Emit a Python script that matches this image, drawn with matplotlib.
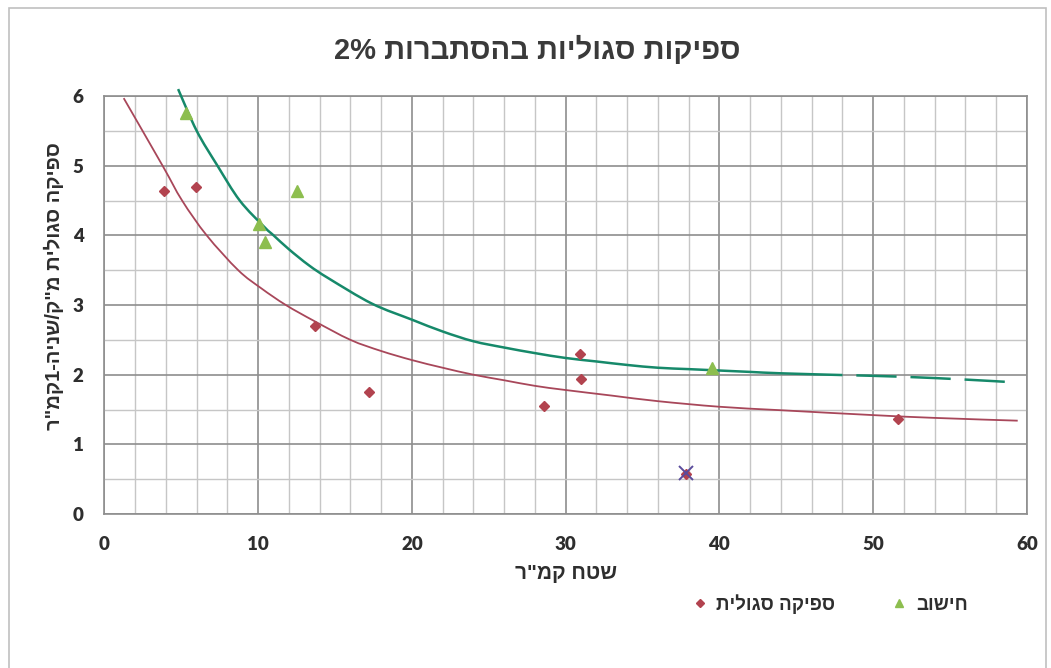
import re
import numpy as np
import matplotlib
matplotlib.use("Agg")
import matplotlib.pyplot as plt
from matplotlib.lines import Line2D
from matplotlib.patches import Rectangle, PathPatch
from matplotlib.path import Path

plt.rcParams['font.family'] = ['Liberation Sans', 'DejaVu Sans']
plt.rcParams['lines.scale_dashes'] = False

# ── data ────────────────────────────────────────────────────────────────────
# measured specific discharge (diamonds)
obs_area = [3.9, 5.93, 13.7, 17.2, 28.6, 30.9, 31.0, 51.6, 37.8]
obs_q = [4.63, 4.69, 2.70, 1.75, 1.55, 2.30, 1.94, 1.37, 0.58]

# outlier marked with a cross
out_area = [37.8]
out_q = [0.59]

# calculated values (triangles)
calc_area = [5.28, 10.05, 10.45, 12.55, 39.5]
calc_q = [5.76, 4.17, 3.91, 4.64, 2.09]

# trend curve through the measured points
red_x = [1.25, 3.78, 5.05, 6.65, 8.7, 10.2, 11.8, 13.65, 16, 18, 20, 22, 24,
         26, 28, 30, 33, 36, 40, 44, 50, 54, 59.4]
red_y = [5.97, 5.0, 4.5, 4.0, 3.5, 3.24, 3.0, 2.77, 2.5, 2.34, 2.21, 2.10, 2.0,
         1.92, 1.84, 1.78, 1.70, 1.62, 1.54, 1.49, 1.42, 1.38, 1.34]

# trend curve through the calculated points (solid part, then dashed tail)
green_x = [4.79, 6.0, 7.35, 8.8, 10.4, 11.0, 12.0, 13.3, 14.6, 17.4, 20,
           22, 24, 26, 28, 30, 32, 34, 36, 38, 40, 42, 44, 48]
green_y = [6.10, 5.5, 5.0, 4.5, 4.12, 4.0, 3.80, 3.57, 3.38, 3.02, 2.79,
           2.62, 2.48, 2.39, 2.31, 2.24, 2.19, 2.14, 2.10, 2.08, 2.06, 2.04,
           2.02, 1.995]
green_tail_x = [48, 52, 56, 59.2]
green_tail_y = [1.995, 1.97, 1.93, 1.89]

x_ticks = [0, 10, 20, 30, 40, 50, 60]
y_ticks = [0, 1, 2, 3, 4, 5, 6]

title = "ספיקות סגוליות בהסתברות 2%"
x_label = 'שטח קמ"ר'
y_label = 'ספיקה סגולית מ"ק/שניה-1קמ"ר'
obs_label = "ספיקה סגולית"
calc_label = "חישוב"

RED_LINE = "#A8475A"
RED_PT = "#B2434F"
GREEN_LINE = "#16896A"
GREEN_PT = "#8DBE4F"
TEXT = "#2e2e2e"


def rtl(s):
    """matplotlib has no bidi support: flip Hebrew to visual order."""
    r = s[::-1]
    return re.sub(r'[0-9%]+', lambda m: m.group(0)[::-1], r)


def smooth_path(xs, ys, t=1 / 6):
    """Excel-like smoothed line: Catmull-Rom segments as cubic Beziers."""
    pts = np.column_stack([xs, ys]).astype(float)
    verts = [pts[0]]
    codes = [Path.MOVETO]
    n = len(pts)
    for i in range(n - 1):
        p0 = pts[i - 1] if i > 0 else pts[i]
        p1, p2 = pts[i], pts[i + 1]
        p3 = pts[i + 2] if i + 2 < n else pts[i + 1]
        verts += [p1 + (p2 - p0) * t, p2 - (p3 - p1) * t, p2]
        codes += [Path.CURVE4] * 3
    return Path(verts, codes)


fig = plt.figure(figsize=(10.51, 6.68), dpi=100, facecolor="white")
ax = fig.add_axes([0.0994, 0.2305, 0.8777, 0.6257])

# chart area border
fig.patches.append(Rectangle((9 / 1051, -0.01), (1046 - 9) / 1051, (668 - 8) / 668 + 0.01,
                             transform=fig.transFigure, fill=False,
                             ec="#c0c0c0", lw=1.2))

fig.text(0.511, 1 - 50 / 668, rtl(title), ha="center", va="center",
         fontsize=21, fontweight="bold", color="#3a3a3a")

ax.set_xlim(0, 60)
ax.set_ylim(0, 6)
ax.set_xticks(x_ticks)
ax.set_yticks(y_ticks)
ax.set_xticks(np.arange(0, 61, 2), minor=True)
ax.set_yticks(np.arange(0, 6.01, 0.5), minor=True)
ax.grid(which="minor", color="#c6c6c6", lw=1.0, zorder=0)
ax.grid(which="major", color="#8e8e8e", lw=1.2, zorder=0)
ax.set_axisbelow(True)
ax.tick_params(which="both", length=0)
ax.tick_params(axis="y", pad=15)
ax.tick_params(axis="x", pad=16)
for lbl in ax.get_xticklabels() + ax.get_yticklabels():
    lbl.set_family(["Lato", "DejaVu Sans"])
    lbl.set_fontweight("heavy")
    lbl.set_fontsize(13.5)
    lbl.set_color(TEXT)
for sp in ax.spines.values():
    sp.set_color("#8e8e8e")
    sp.set_linewidth(1.2)

ax.set_xlabel(rtl(x_label), fontsize=15, fontweight="bold", color=TEXT, labelpad=8)
# y label placed directly so it sits where the scan has it
fig.text(54 / 1051, 1 - 286 / 668, rtl(y_label), rotation=90, ha="center",
         va="center", fontsize=14.5, fontweight="bold", color=TEXT)

# curves
ax.add_patch(PathPatch(smooth_path(red_x, red_y), fill=False, ec=RED_LINE,
                       lw=1.3, zorder=3))
ax.add_patch(PathPatch(smooth_path(green_x, green_y), fill=False, ec=GREEN_LINE,
                       lw=1.8, zorder=3, clip_on=False))
ax.add_patch(PathPatch(smooth_path(green_tail_x, green_tail_y), fill=False,
                       ec=GREEN_LINE, lw=1.8, zorder=3, ls=(29, (29, 10))))

# points
ax.plot(obs_area, obs_q, ls="none", marker="D", ms=5, color=RED_PT, zorder=4)
ax.plot(calc_area, calc_q, ls="none", marker="^", ms=9, color=GREEN_PT, zorder=4)
ax.plot(out_area, out_q, ls="none", marker="x", ms=10, mew=1.4, color="#5A4C9C", zorder=5)

handles = [Line2D([], [], ls="none", marker="D", ms=4, color=RED_PT),
           Line2D([], [], ls="none", marker="^", ms=5.5, color=GREEN_PT)]
fig.legend(handles, [rtl(obs_label), rtl(calc_label)], loc="center",
           bbox_to_anchor=(830 / 1051, 1 - 604 / 668), ncol=2, frameon=False,
           prop={"size": 13.5, "weight": "bold"}, handlelength=0.8,
           handletextpad=0.5, columnspacing=3.0, labelcolor=TEXT)

fig.savefig("out.png", dpi=100, facecolor="white")
